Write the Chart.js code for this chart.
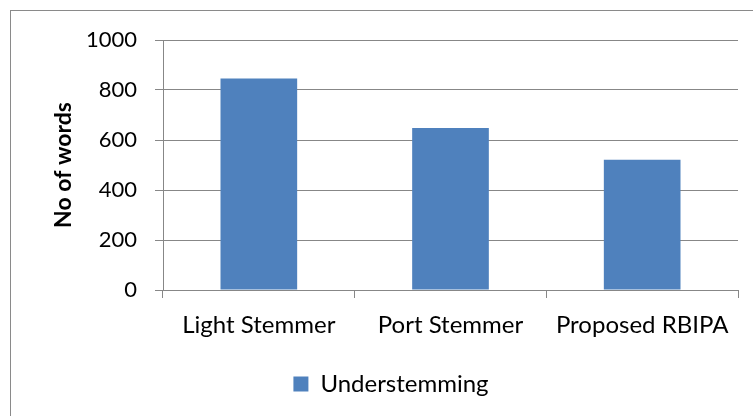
<!DOCTYPE html>
<html>
<head>
<meta charset="utf-8">
<script src="https://cdn.jsdelivr.net/npm/chart.js@4"></script>
<style>
  html, body { margin: 0; padding: 0; background: #fff; overflow: hidden; }
  #frame { position: absolute; left: 10px; top: 10px; width: 800px; height: 500px; border: 1px solid #8a8a8a; }
  #c { position: absolute; left: 0; top: 0; }
</style>
</head>
<body>
<div id="frame"></div>
<canvas id="c" width="753" height="416"></canvas>
<script>
const categories = ['Light Stemmer', 'Port Stemmer', 'Proposed RBIPA']
const understemming = [846, 648, 521]
const seriesName = 'Understemming'
const yTicks = [0, 200, 400, 600, 800, 1000]

const gridColor = '#878787'
const font = 'Lato, "Open Sans", sans-serif'

new Chart(document.getElementById('c'), {
    type: 'bar',
    data: {
        labels: categories,
        datasets: [{
            label: seriesName,
            data: understemming,
            backgroundColor: '#4f81bd',
            barPercentage: 0.4,
            categoryPercentage: 1
        }]
    },
    options: {
        responsive: false,
        animation: false,
        layout: { padding: { left: 44, top: 40, right: 15, bottom: 10 } },
        plugins: {
            tooltip: { enabled: false },
            legend: {
                position: 'bottom',
                labels: {
                    boxWidth: 15,
                    boxHeight: 15,
                    padding: 10,
                    color: '#000',
                    font: { family: font, size: 24 }
                }
            }
        },
        scales: {
            x: {
                grid: { drawOnChartArea: false, color: gridColor, tickLength: 8, offset: true },
                border: { color: gridColor },
                ticks: { color: '#000', padding: 13, maxRotation: 0, font: { family: font, size: 24 } },
                afterFit: s => { s.height = 72 }
            },
            y: {
                min: 0,
                max: yTicks[yTicks.length - 1],
                afterBuildTicks: s => { s.ticks = yTicks.map(v => ({ value: v })) },
                grid: { color: gridColor, tickLength: 8 },
                border: { color: gridColor },
                ticks: {
                    color: '#000',
                    padding: 18,
                    font: { family: font, size: 22 },
                    callback: v => String(v)
                },
                title: {
                    display: true,
                    text: 'No of words',
                    color: '#000',
                    padding: { top: 6, bottom: 0 },
                    font: { family: font, size: 23, weight: 'bold' }
                },
                afterFit: s => { s.width = 119 }
            }
        }
    }
})
</script>
</body>
</html>
